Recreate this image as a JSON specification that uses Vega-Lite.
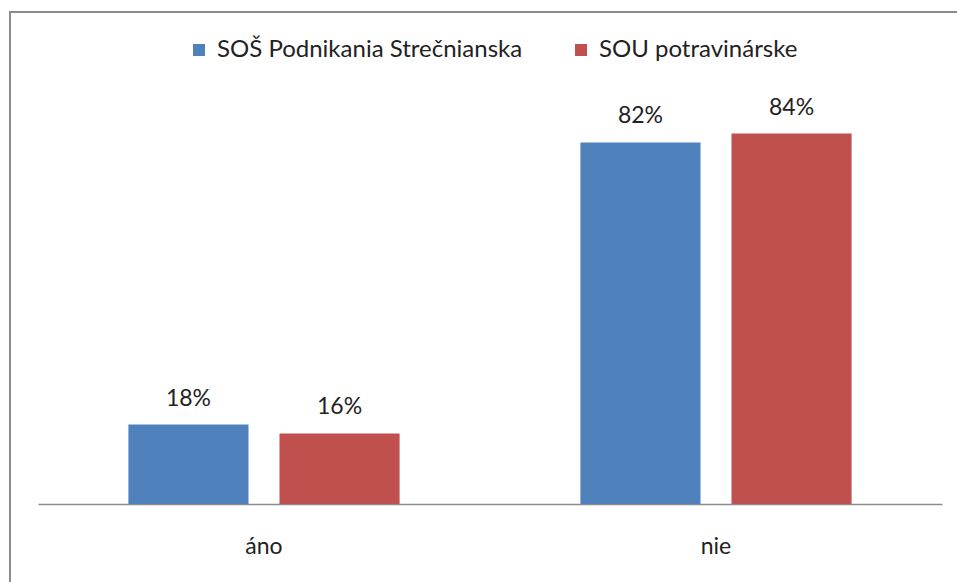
{
  "$schema": "https://vega.github.io/schema/vega-lite/v6.json",
  "width": 960,
  "height": 590,
  "autosize": "none",
  "padding": {"left": 10, "top": 12, "right": 0, "bottom": 0},
  "background": "white",
  "config": {
    "view": {"stroke": "#8c8c8c", "strokeWidth": 2},
    "font": "Lato"
  },
  "data": {
    "values": [
      {"odpoved": "áno", "skola": "SOŠ Podnikania Strečnianska", "podiel": 0.18},
      {"odpoved": "áno", "skola": "SOU potravinárske", "podiel": 0.16},
      {"odpoved": "nie", "skola": "SOŠ Podnikania Strečnianska", "podiel": 0.82},
      {"odpoved": "nie", "skola": "SOU potravinárske", "podiel": 0.84}
    ]
  },
  "encoding": {
    "x": {
      "field": "odpoved",
      "type": "nominal",
      "sort": ["áno", "nie"],
      "scale": {"range": [28, 932], "paddingInner": 0.4, "paddingOuter": 0.2},
      "axis": {
        "title": null,
        "offset": -98,
        "labelAngle": 0,
        "ticks": false,
        "domainColor": "#8c8c8c",
        "domainWidth": 1.5,
        "labelFontSize": 23,
        "labelColor": "#222",
        "labelPadding": 31,
        "labelFont": "Lato"
      }
    },
    "xOffset": {
      "field": "skola",
      "type": "nominal",
      "sort": ["SOŠ Podnikania Strečnianska", "SOU potravinárske"],
      "scale": {"paddingInner": 0.205, "paddingOuter": 0}
    },
    "y": {
      "field": "podiel",
      "type": "quantitative",
      "scale": {"domain": [0, 1], "range": [492, 51]},
      "axis": null
    }
  },
  "layer": [
    {
      "mark": {"type": "bar"},
      "encoding": {
        "color": {
          "field": "skola",
          "type": "nominal",
          "sort": ["SOŠ Podnikania Strečnianska", "SOU potravinárske"],
          "scale": {"range": ["#4F81BD", "#C0504D"]},
          "legend": {
            "title": null,
            "orient": "none",
            "direction": "horizontal",
            "legendX": 177,
            "legendY": 26,
            "padding": 0,
            "symbolType": "square",
            "symbolSize": 144,
            "symbolStrokeWidth": 0,
            "labelFontSize": 24,
            "labelColor": "#222",
            "labelFont": "Lato",
            "labelOffset": 6,
            "columnPadding": 46,
            "labelLimit": 500
          }
        }
      }
    },
    {
      "mark": {"type": "text", "baseline": "alphabetic", "dy": -19, "fontSize": 23, "color": "#222", "font": "Lato"},
      "encoding": {
        "text": {"field": "podiel", "type": "quantitative", "format": ".0%"}
      }
    }
  ]
}
